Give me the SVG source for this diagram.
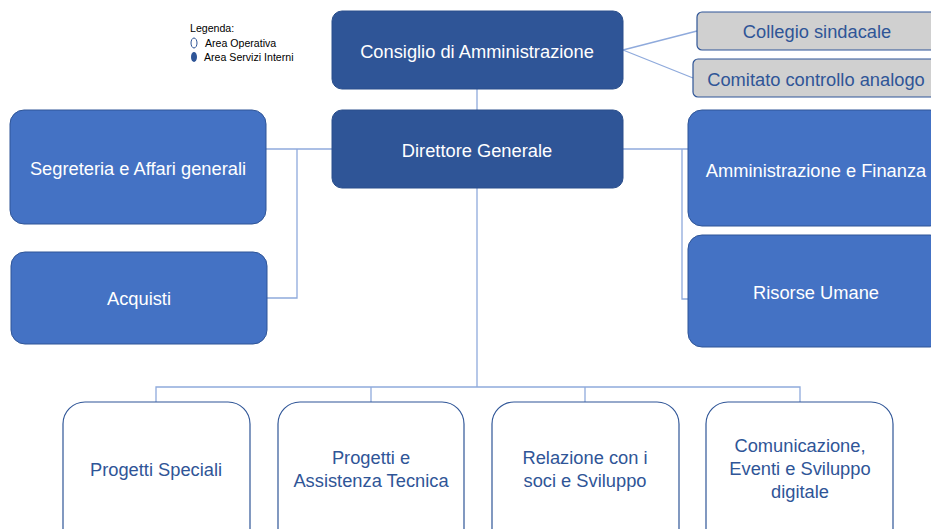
<svg xmlns="http://www.w3.org/2000/svg" width="931" height="529" viewBox="0 0 931 529">
<style>
text{font-family:"Liberation Sans",Arial,sans-serif;text-anchor:middle}
.top rect{fill:#2F5597;stroke:#2B4F8C;stroke-width:1}
.top text{fill:#FFFFFF;font-size:18.3px}
.mid rect{fill:#4472C4;stroke:#2F5597;stroke-width:1}
.mid text{fill:#FFFFFF;font-size:18.3px}
.gray rect{fill:#D0D0D0;stroke:#2F5597;stroke-width:1.2}
.gray text{fill:#2F5597;font-size:18.3px}
.op rect{fill:#FFFFFF;stroke:#2F5597;stroke-width:1.2}
.op text{fill:#2F5597;font-size:18.3px}
.conn{fill:none;stroke:#8FAADC;stroke-width:1.3}
.leg{font-size:10.6px;text-anchor:start;fill:#000}
</style>
<rect width="931" height="529" fill="#FFFFFF"/>
<g id="legend">
<text class="leg" x="190" y="32">Legenda:</text>
<ellipse cx="194" cy="43" rx="3" ry="5" fill="#FFFFFF" stroke="#2F5597" stroke-width="1"/>
<text class="leg" x="205" y="47">Area Operativa</text>
<ellipse cx="194" cy="57" rx="3" ry="5" fill="#2F5597"/>
<text class="leg" x="204" y="61">Area Servizi Interni</text>
</g>
<g id="connectors" class="conn">
<line x1="477" y1="89" x2="477" y2="110"/>
<line x1="623" y1="50" x2="697" y2="31"/>
<line x1="623" y1="50" x2="693" y2="78"/>
<polyline points="266,149 332,149"/>
<polyline points="297,149 297,298 267,298"/>
<polyline points="623,149 688,149"/>
<polyline points="682,149 682,299 688,299"/>
<line x1="477" y1="188" x2="477" y2="387"/>
<polyline points="156,402 156,387 800,387 800,402"/>
<line x1="371" y1="387" x2="371" y2="402"/>
<line x1="585" y1="387" x2="585" y2="402"/>
</g>
<g id="consiglio" class="top">
<rect x="332" y="11" width="291" height="78" rx="10"/>
<text x="477" y="58">Consiglio di Amministrazione</text>
</g>
<g id="direttore" class="top">
<rect x="332" y="110" width="291" height="78" rx="10"/>
<text x="477" y="157">Direttore Generale</text>
</g>
<g id="collegio" class="gray">
<rect x="697" y="12" width="240" height="38" rx="5"/>
<text x="817" y="38">Collegio sindacale</text>
</g>
<g id="comitato" class="gray">
<rect x="693" y="59" width="244" height="38" rx="5"/>
<text x="816" y="86">Comitato controllo analogo</text>
</g>
<g id="segreteria" class="mid">
<rect x="10" y="110" width="256" height="114" rx="14"/>
<text x="138" y="175">Segreteria e Affari generali</text>
</g>
<g id="acquisti" class="mid">
<rect x="11" y="252" width="256" height="92" rx="14"/>
<text x="139" y="305">Acquisti</text>
</g>
<g id="amministrazione" class="mid">
<rect x="688" y="110" width="256" height="116" rx="14"/>
<text x="816" y="177">Amministrazione e Finanza</text>
</g>
<g id="risorse" class="mid">
<rect x="688" y="235" width="256" height="112" rx="14"/>
<text x="816" y="299">Risorse Umane</text>
</g>
<g id="progetti-speciali" class="op">
<rect x="63" y="402" width="187" height="150" rx="22"/>
<text x="156" y="476">Progetti Speciali</text>
</g>
<g id="progetti-assistenza" class="op">
<rect x="278" y="402" width="186" height="150" rx="22"/>
<text x="371" y="464">Progetti e</text>
<text x="371" y="487">Assistenza Tecnica</text>
</g>
<g id="relazione" class="op">
<rect x="492" y="402" width="187" height="150" rx="22"/>
<text x="585" y="464">Relazione con i</text>
<text x="585" y="487">soci e Sviluppo</text>
</g>
<g id="comunicazione" class="op">
<rect x="706" y="402" width="187" height="150" rx="22"/>
<text x="800" y="452">Comunicazione,</text>
<text x="800" y="475">Eventi e Sviluppo</text>
<text x="800" y="498">digitale</text>
</g>
</svg>
